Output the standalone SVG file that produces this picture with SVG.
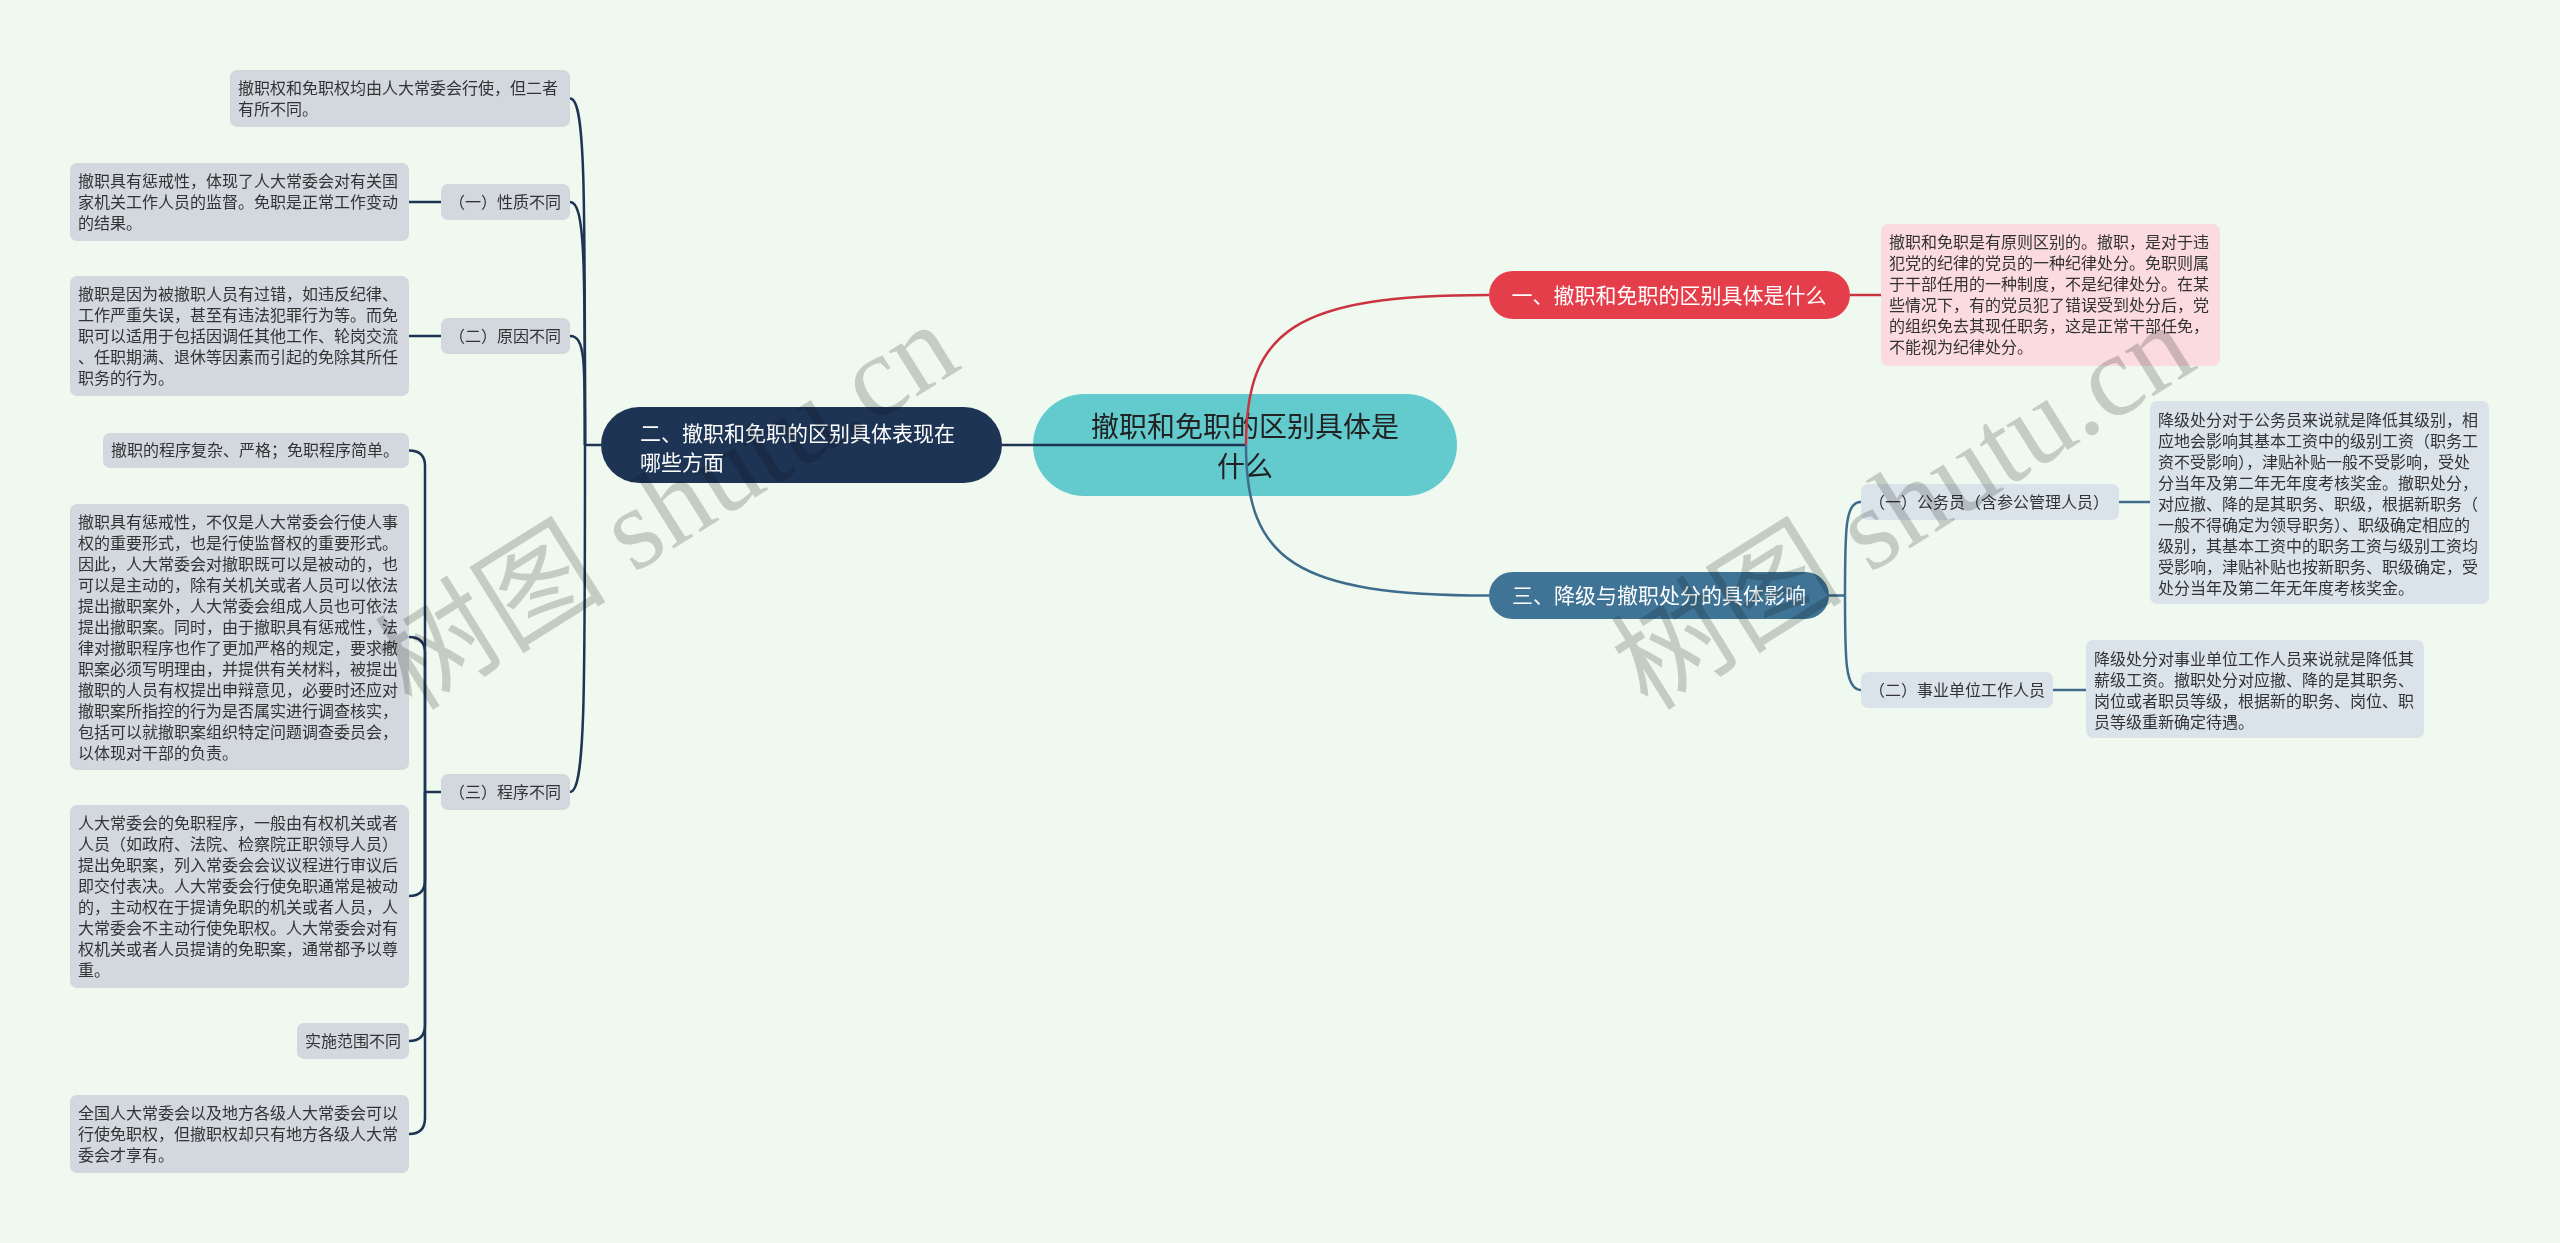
<svg xmlns="http://www.w3.org/2000/svg" width="2560" height="1243" viewBox="0 0 2560 1243">
<style>
.bg{fill:#f0f9ef}
.leaf{fill:#d3d7de}
.leafb{fill:#dbe3ea}
.pink{fill:#fbdbdf}
.t{font-family:"Noto Sans CJK SC","Noto Sans",sans-serif;font-size:16px;fill:#333}
.tb{font-family:"Noto Sans CJK SC","Noto Sans",sans-serif;font-size:21px;fill:#fff}
.tc{font-family:"Noto Sans CJK SC","Noto Sans",sans-serif;font-size:28px;fill:#222}
.cd{fill:none;stroke:#1e3455;stroke-width:2.5}
.cr{fill:none;stroke:#c9343f;stroke-width:2.5}
.cb{fill:none;stroke:#3d6c8c;stroke-width:2.5}
.wm{font-family:"Liberation Serif","Noto Sans CJK SC",serif;font-size:116px;fill:#d0d2d0;mix-blend-mode:multiply}
</style>
<rect class="bg" x="0" y="0" width="2560" height="1243"/>

<g id="root">
<rect x="1033" y="394" width="424" height="102" rx="51" fill="#63cbce"/>
<text class="tc" text-anchor="middle"><tspan x="1245" y="437">撤职和免职的区别具体是</tspan><tspan x="1245" y="477">什么</tspan></text>
</g>

<g id="connectors">
<path class="cd" d="M1246 445 L1002 445"/>
<path class="cd" d="M601 445 L585 445"/>
<path class="cd" d="M585 445 C585 180,585 98.5,570 98.5"/>
<path class="cd" d="M585 445 C585 260,585 202,570 202"/>
<path class="cd" d="M585 445 C585 360,585 336,570 336"/>
<path class="cd" d="M585 445 C585 700,585 792,570 792"/>
<path class="cd" d="M409 202 L441 202"/>
<path class="cd" d="M409 336 L441 336"/>
<path class="cd" d="M441 792 L425 792"/>
<path class="cd" d="M425 792 L425 466 Q425 450.5 409 450.5"/>
<path class="cd" d="M425 792 L425 653 Q425 637 409 637"/>
<path class="cd" d="M425 792 L425 880 Q425 896 409 896"/>
<path class="cd" d="M425 792 L425 1025 Q425 1041 409 1041"/>
<path class="cd" d="M425 792 L425 1118 Q425 1134 409 1134"/>
<path class="cr" d="M1246 445 C1246 330,1295 295,1489 295"/>
<path class="cr" d="M1850 295 L1881 295"/>
<path class="cb" d="M1246 445 C1246 560,1295 595.5,1489 595.5"/>
<path class="cb" d="M1829 595.5 L1845 595.5"/>
<path class="cb" d="M1845 595.5 C1845 530,1845 502,1861 502"/>
<path class="cb" d="M1845 595.5 C1845 660,1845 690,1861 690"/>
<path class="cb" d="M2119 502 L2150 502"/>
<path class="cb" d="M2053 690 L2086 690"/>
</g>

<g id="branch2">
<rect x="601" y="407" width="401" height="76" rx="38" fill="#1e3455"/>
<text class="tb"><tspan x="640" y="441">二、撤职和免职的区别具体表现在</tspan><tspan x="640" y="470">哪些方面</tspan></text>
</g>

<g id="leafA">
<rect class="leaf" x="230" y="70" width="340" height="57" rx="7"/>
<text class="t"><tspan x="238" y="94">撤职权和免职权均由人大常委会行使，但二者</tspan><tspan x="238" y="115">有所不同。</tspan></text>
</g>

<g id="label1">
<rect class="leaf" x="441" y="184" width="129" height="36" rx="7"/>
<text class="t"><tspan x="449" y="208">（一）性质不同</tspan></text>
</g>
<g id="leafB">
<rect class="leaf" x="70" y="163" width="339" height="78" rx="7"/>
<text class="t"><tspan x="78" y="187">撤职具有惩戒性，体现了人大常委会对有关国</tspan><tspan x="78" y="208">家机关工作人员的监督。免职是正常工作变动</tspan><tspan x="78" y="229">的结果。</tspan></text>
</g>

<g id="label2">
<rect class="leaf" x="441" y="318" width="129" height="36" rx="7"/>
<text class="t"><tspan x="449" y="342">（二）原因不同</tspan></text>
</g>
<g id="leafC">
<rect class="leaf" x="70" y="276" width="339" height="120" rx="7"/>
<text class="t"><tspan x="78" y="300">撤职是因为被撤职人员有过错，如违反纪律、</tspan><tspan x="78" y="321">工作严重失误，甚至有违法犯罪行为等。而免</tspan><tspan x="78" y="342">职可以适用于包括因调任其他工作、轮岗交流</tspan><tspan x="78" y="363">、任职期满、退休等因素而引起的免除其所任</tspan><tspan x="78" y="384">职务的行为。</tspan></text>
</g>

<g id="label3">
<rect class="leaf" x="441" y="774" width="129" height="36" rx="7"/>
<text class="t"><tspan x="449" y="798">（三）程序不同</tspan></text>
</g>
<g id="leafD">
<rect class="leaf" x="103" y="433" width="306" height="35" rx="7"/>
<text class="t"><tspan x="111" y="456">撤职的程序复杂、严格；免职程序简单。</tspan></text>
</g>
<g id="leafE">
<rect class="leaf" x="70" y="504" width="339" height="266" rx="7"/>
<text class="t"><tspan x="78" y="528">撤职具有惩戒性，不仅是人大常委会行使人事</tspan><tspan x="78" y="549">权的重要形式，也是行使监督权的重要形式。</tspan><tspan x="78" y="570">因此，人大常委会对撤职既可以是被动的，也</tspan><tspan x="78" y="591">可以是主动的，除有关机关或者人员可以依法</tspan><tspan x="78" y="612">提出撤职案外，人大常委会组成人员也可依法</tspan><tspan x="78" y="633">提出撤职案。同时，由于撤职具有惩戒性，法</tspan><tspan x="78" y="654">律对撤职程序也作了更加严格的规定，要求撤</tspan><tspan x="78" y="675">职案必须写明理由，并提供有关材料，被提出</tspan><tspan x="78" y="696">撤职的人员有权提出申辩意见，必要时还应对</tspan><tspan x="78" y="717">撤职案所指控的行为是否属实进行调查核实，</tspan><tspan x="78" y="738">包括可以就撤职案组织特定问题调查委员会，</tspan><tspan x="78" y="759">以体现对干部的负责。</tspan></text>
</g>
<g id="leafF">
<rect class="leaf" x="70" y="805" width="339" height="183" rx="7"/>
<text class="t"><tspan x="78" y="829">人大常委会的免职程序，一般由有权机关或者</tspan><tspan x="78" y="850">人员（如政府、法院、检察院正职领导人员）</tspan><tspan x="78" y="871">提出免职案，列入常委会会议议程进行审议后</tspan><tspan x="78" y="892">即交付表决。人大常委会行使免职通常是被动</tspan><tspan x="78" y="913">的，主动权在于提请免职的机关或者人员，人</tspan><tspan x="78" y="934">大常委会不主动行使免职权。人大常委会对有</tspan><tspan x="78" y="955">权机关或者人员提请的免职案，通常都予以尊</tspan><tspan x="78" y="976">重。</tspan></text>
</g>
<g id="leafG">
<rect class="leaf" x="297" y="1023" width="112" height="36" rx="7"/>
<text class="t"><tspan x="305" y="1047">实施范围不同</tspan></text>
</g>
<g id="leafH">
<rect class="leaf" x="70" y="1095" width="339" height="78" rx="7"/>
<text class="t"><tspan x="78" y="1119">全国人大常委会以及地方各级人大常委会可以</tspan><tspan x="78" y="1140">行使免职权，但撤职权却只有地方各级人大常</tspan><tspan x="78" y="1161">委会才享有。</tspan></text>
</g>

<g id="branch1">
<rect x="1489" y="271" width="361" height="48" rx="24" fill="#e53e4b"/>
<text class="tb" text-anchor="middle"><tspan x="1669" y="303">一、撤职和免职的区别具体是什么</tspan></text>
</g>
<g id="leafPink">
<rect class="pink" x="1881" y="224" width="339" height="142" rx="7"/>
<text class="t"><tspan x="1889" y="248">撤职和免职是有原则区别的。撤职，是对于违</tspan><tspan x="1889" y="269">犯党的纪律的党员的一种纪律处分。免职则属</tspan><tspan x="1889" y="290">于干部任用的一种制度，不是纪律处分。在某</tspan><tspan x="1889" y="311">些情况下，有的党员犯了错误受到处分后，党</tspan><tspan x="1889" y="332">的组织免去其现任职务，这是正常干部任免，</tspan><tspan x="1889" y="353">不能视为纪律处分。</tspan></text>
</g>

<g id="branch3">
<rect x="1489" y="572" width="340" height="47" rx="23.5" fill="#3f7497"/>
<text class="tb" text-anchor="middle"><tspan x="1659" y="603">三、降级与撤职处分的具体影响</tspan></text>
</g>
<g id="label3a">
<rect class="leafb" x="1861" y="484" width="258" height="36" rx="7"/>
<text class="t"><tspan x="1869" y="508">（一）公务员（含参公管理人员）</tspan></text>
</g>
<g id="leaf3a">
<rect class="leafb" x="2150" y="401" width="339" height="203" rx="7"/>
<text class="t"><tspan x="2158" y="426">降级处分对于公务员来说就是降低其级别，相</tspan><tspan x="2158" y="447">应地会影响其基本工资中的级别工资（职务工</tspan><tspan x="2158" y="468">资不受影响），津贴补贴一般不受影响，受处</tspan><tspan x="2158" y="489">分当年及第二年无年度考核奖金。撤职处分，</tspan><tspan x="2158" y="510">对应撤、降的是其职务、职级，根据新职务（</tspan><tspan x="2158" y="531">一般不得确定为领导职务）、职级确定相应的</tspan><tspan x="2158" y="552">级别，其基本工资中的职务工资与级别工资均</tspan><tspan x="2158" y="573">受影响，津贴补贴也按新职务、职级确定，受</tspan><tspan x="2158" y="594">处分当年及第二年无年度考核奖金。</tspan></text>
</g>
<g id="label3b">
<rect class="leafb" x="1861" y="672" width="192" height="36" rx="7"/>
<text class="t"><tspan x="1869" y="696">（二）事业单位工作人员</tspan></text>
</g>
<g id="leaf3b">
<rect class="leafb" x="2086" y="640" width="338" height="98" rx="7"/>
<text class="t"><tspan x="2094" y="665">降级处分对事业单位工作人员来说就是降低其</tspan><tspan x="2094" y="686">薪级工资。撤职处分对应撤、降的是其职务、</tspan><tspan x="2094" y="707">岗位或者职员等级，根据新的职务、岗位、职</tspan><tspan x="2094" y="728">员等级重新确定待遇。</tspan></text>
</g>

<g id="watermarks">
<text class="wm" transform="translate(412,712) rotate(-32)">树图 shutu.cn</text>
<text class="wm" transform="translate(1648,712) rotate(-32)">树图 shutu.cn</text>
</g>
</svg>
